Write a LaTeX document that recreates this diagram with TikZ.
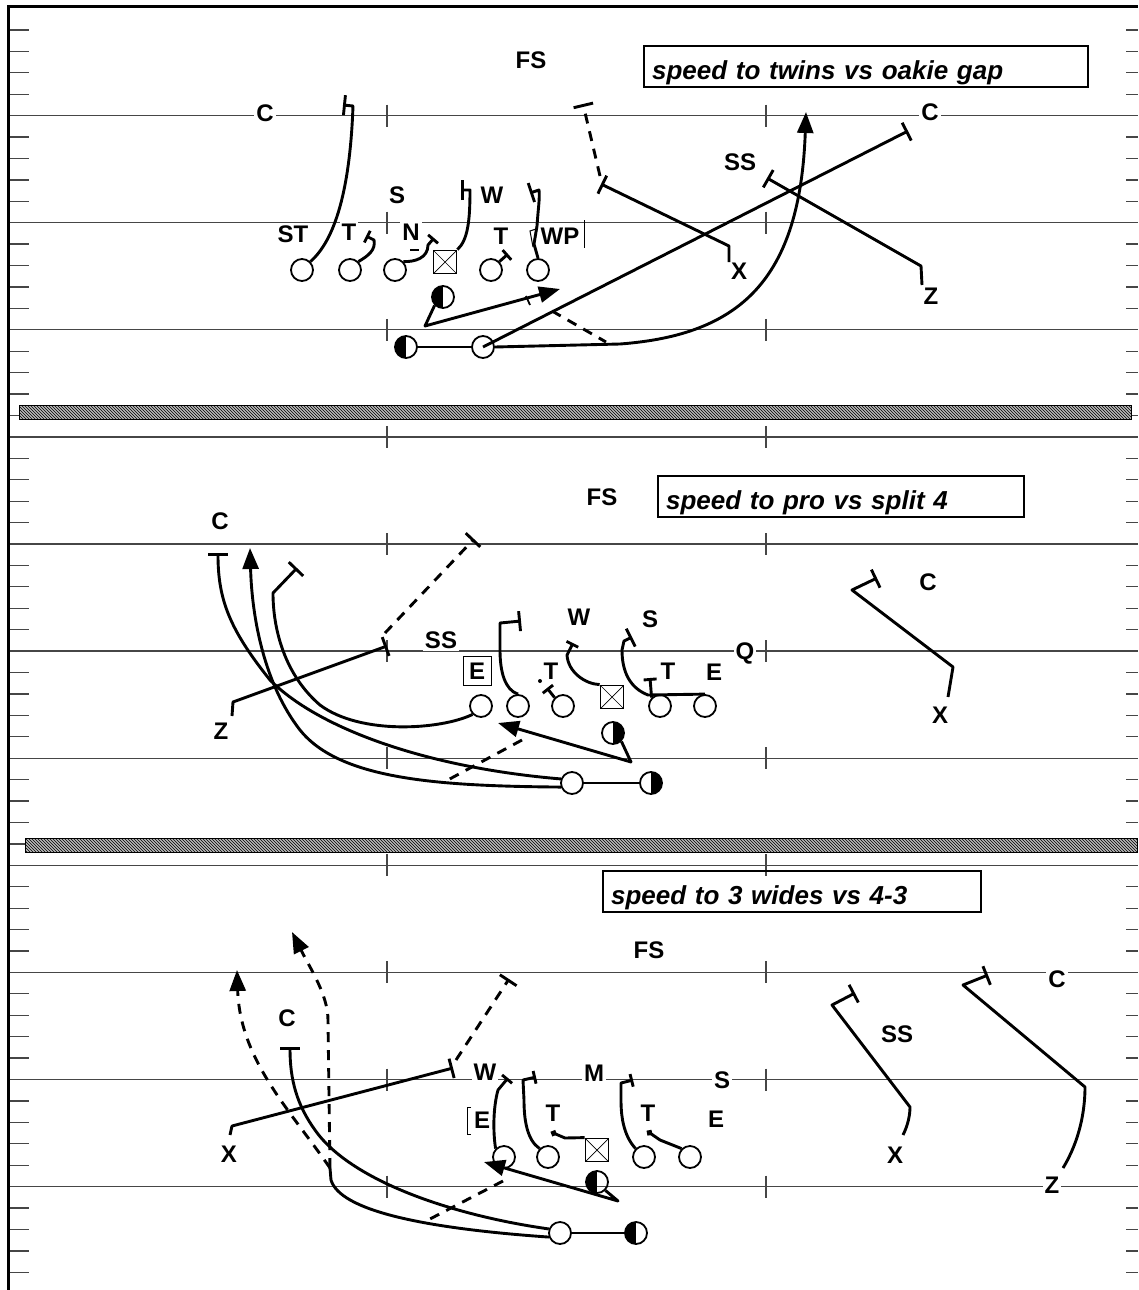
\documentclass[tikz,border=0pt]{standalone}
\usepackage{fontspec}
\setmainfont{Liberation Sans}
\usepackage{tikz}
\usetikzlibrary{arrows.meta, patterns}
\definecolor{fieldLine}{RGB}{70,70,70}

\begin{document}
\begin{tikzpicture}[x=1pt, y=-1pt,
    yard/.style={draw=fieldLine, line width=1.3pt},
    hatchbar/.style={draw, line width=1pt, fill=gray!55, postaction={pattern=north west lines}},
    plyr/.style={circle, draw, minimum size=22pt, inner sep=0pt, line width=1.8pt},
    halfL/.style={plyr, path picture={\fill (path picture bounding box.south west) rectangle (path picture bounding box.north);}},
    halfR/.style={plyr, path picture={\fill (path picture bounding box.south) rectangle (path picture bounding box.north east);}},
    snapbox/.style={draw, minimum size=23pt, inner sep=0pt, line width=1.8pt, path picture={\draw[line width=0.7pt] (path picture bounding box.south west) -- (path picture bounding box.north east) (path picture bounding box.north west) -- (path picture bounding box.south east);}},
    lbl/.style={fill=white, inner sep=2pt, font=\fontsize{24}{24}\selectfont\bfseries},
    callout/.style={draw, line width=2.2pt, anchor=north west, inner xsep=8pt, inner ysep=5pt, text height=28pt, text depth=3pt, align=left, font=\fontsize{26}{28}\selectfont\bfseries\itshape},
    route/.style={line width=2.9pt, line join=round},
    block/.style={route, -{Bar[width=20pt]}},
    sblock/.style={route, -{Bar[width=13pt]}},
    runarrow/.style={route, -{Triangle[length=21pt, width=16pt]}},
    option/.style={route, dash pattern=on 10pt off 8pt},
    dotend/.style={route, -{Circle[length=6pt]}}
]
    \useasboundingbox (0,0) rectangle (1138,1290);

    \foreach \k in {1,...,11}{
        \pgfmathsetmacro{\yy}{8.5+107.1*\k}
        \draw[yard] (8,\yy) -- (1138,\yy);
        \draw[yard] (387,\yy-11) -- (387,\yy+11);
        \draw[yard] (766,\yy-11) -- (766,\yy+11);
    }
    \foreach \k in {0,...,11}
        \foreach \j in {1,...,4}{
            \pgfmathsetmacro{\yy}{8.5+107.1*\k+21.42*\j}
            \draw[yard] (8,\yy) -- (29,\yy);
            \draw[yard] (1126,\yy) -- (1138,\yy);
        }
    \draw[line width=3pt] (8,1290) -- (8,7) -- (1138,7);
    \draw[hatchbar] (19,405) rectangle (1131,419);
    \draw[hatchbar] (25,838) rectangle (1137,852);

    \node[callout, text width=428pt] (title1) at (643,45) {speed to twins vs oakie gap};
    \node[callout, text width=350pt] (title2) at (657,475) {speed to pro vs split 4};
    \node[callout, text width=362pt] (title3) at (602,870) {speed to 3 wides vs 4-3};

    \node[lbl] (fs1) at (531,60) {FS};
    \node[lbl] (c1) at (265,113) {C};
    \node[lbl] (c2) at (930,112) {C};
    \node[lbl] (ss1) at (740,162) {SS};
    \node[lbl] (s1) at (397,195) {S};
    \node[lbl] (w1) at (492,195) {W};
    \node[lbl] (st1) at (293,234) {ST};
    \node[lbl] (t1) at (349,232) {T};
    \node[lbl] (n1) at (411,232) {N};
    \node[lbl] (t2) at (501,236) {T};
    \node[lbl] (wp1) at (560,236) {WP};
    \node[lbl] (x1) at (739,271) {X};
    \node[lbl] (z1) at (931,296) {Z};
    \draw[line width=1pt] (584,220) -- (584,248);
    \draw[line width=1pt] (536,229) -- (530,231) -- (533,247);

    \node[lbl] (fs2) at (602,497) {FS};
    \node[lbl] (c3) at (220,521) {C};
    \node[lbl] (c4) at (928,582) {C};
    \node[lbl] (ss2) at (441,640) {SS};
    \node[lbl] (w2) at (579,617) {W};
    \node[lbl] (s2) at (650,619) {S};
    \node[lbl, draw, line width=0.8pt, inner sep=6pt] (e1) at (477,671) {E};
    \node[lbl] (t3) at (551,671) {T};
    \node[lbl] (t4) at (668,671) {T};
    \node[lbl] (e2) at (714,672) {E};
    \node[lbl] (q1) at (745,653) {Q};
    \node[lbl] (x2) at (940,715) {X};
    \node[lbl] (z2) at (221,731) {Z};

    \node[lbl] (fs3) at (649,950) {FS};
    \node[lbl] (c5) at (287,1018) {C};
    \node[lbl] (c6) at (1057,979) {C};
    \node[lbl] (ss3) at (897,1034) {SS};
    \node[lbl] (w3) at (485,1072) {W};
    \node[lbl] (labM) at (594,1073) {M};
    \node[lbl] (s3) at (722,1080) {S};
    \node[lbl] (e3) at (482,1120) {E};
    \node[lbl] (t5) at (553,1113) {T};
    \node[lbl] (t6) at (648,1113) {T};
    \node[lbl] (e4) at (716,1119) {E};
    \node[lbl] (x3) at (229,1154) {X};
    \node[lbl] (x4) at (895,1155) {X};
    \node[lbl] (z3) at (1052,1185) {Z};
    \draw[line width=1pt] (471,1107) -- (467,1107) -- (467,1134) -- (471,1134);

    \node[plyr] (st) at (302,270) {};
    \node[plyr] (tl) at (350,270) {};
    \node[plyr] (gl) at (395,270) {};
    \node[snapbox] (ctr) at (445,262) {};
    \node[plyr] (gr) at (491,270) {};
    \node[plyr] (te) at (538,270) {};
    \node[halfL] (qb) at (443,297) {};
    \node[halfL] (hb) at (406,347) {};
    \node[plyr] (fb) at (483,347) {};

    \node[plyr] (m1) at (481,706) {};
    \node[plyr] (m2) at (518,706) {};
    \node[plyr] (m3) at (563,706) {};
    \node[snapbox] (mc) at (612,697) {};
    \node[plyr] (m4) at (660,706) {};
    \node[plyr] (m5) at (705,706) {};
    \node[halfR] (mqb) at (613,733) {};
    \node[plyr] (mfb) at (572,783) {};
    \node[halfR] (mhb) at (651,783) {};

    \node[plyr] (b1) at (504,1157) {};
    \node[plyr] (b2) at (548,1157) {};
    \node[snapbox] (bc) at (597,1150) {};
    \node[plyr] (b3) at (644,1157) {};
    \node[plyr] (b4) at (690,1157) {};
    \node[halfL] (bqb) at (597,1182) {};
    \node[plyr] (bfb) at (560,1233) {};
    \node[halfL] (bhb) at (636,1233) {};

    \coordinate (xr1) at (729,262);
    \coordinate (zr1) at (922,285);
    \coordinate (xblk1) at (601,184);
    \coordinate (zr2) at (232,716);
    \coordinate (zblk2) at (387,646);
    \coordinate (xr2) at (948,697);
    \coordinate (optA) at (330,1168);
    \coordinate (xr3) at (230,1135);
    \coordinate (xblk3) at (453,1068);
    \coordinate (xr4) at (903,1135);
    \coordinate (zr3) at (1063,1168);

    \draw[block] (st.north east) .. controls (335,240) and (350,190) .. (353,106) -- (343,105);
    \draw[sblock] (tl.north east) .. controls (368,256) and (376,250) .. (374,240) -- (366,236);
    \draw[sblock] (gl.north east) .. controls (415,262) and (428,258) .. (428,245) -- (434,238);
    \draw[route, line width=1.8pt] (410,250) -- (419,250);
    \draw[block] (ctr.north east) .. controls (468,240) and (470,220) .. (470,190) -- (461,190);
    \draw[sblock] (gr.north east) -- (508,254);
    \draw[block] (te.north) -- (534,244) -- (537,226) .. controls (538,210) and (540,198) .. (539,190) -- (530,193);
    \draw[block] (xr1) -- (729,246) -- (xblk1);
    \draw[option, -{Bar[width=20pt]}] (600,176) -- (583,104);
    \draw[block] (zr1) -- (921,266) -- (767,178);
    \draw[block] (fb.center) -- (908,131);
    \draw[route] (hb) -- (fb);
    \draw[runarrow] (fb.east) -- (620,344) .. controls (740,335) and (800,280) .. (806,112);
    \draw[runarrow] (qb.south west) -- (425,326) -- (560,289);
    \draw[route, line width=1.8pt] (526,296) -- (530,305);
    \draw[option] (552,311) -- (606,342);

    \draw[route] (mfb) -- (mhb);
    \draw[runarrow] (mqb.south east) -- (631,762) -- (498,723);
    \draw[option] (522,740) -- (446,781);
    \draw[block] (mfb.160) .. controls (430,768) and (320,730) .. (270,680) .. controls (230,630) and (218,600) .. (218,553);
    \draw[runarrow] (mfb.200) .. controls (440,786) and (340,780) .. (300,730) .. controls (265,685) and (252,620) .. (250,548);
    \draw[block] (m1.south west) .. controls (440,730) and (360,735) .. (320,705) .. controls (285,675) and (273,630) .. (273,593) -- (297,568);
    \draw[block] (zr2) -- (233,702) -- (zblk2);
    \draw[option, -{Bar[width=20pt]}] (385,633) -- (474,539);
    \draw[block] (m2.north) .. controls (505,690) and (500,672) .. (500,650) -- (500,623) -- (521,621);
    \draw[sblock] (m3.north west) -- (547,688);
    \fill (540,681) circle (2pt);
    \draw[sblock] (mc.north west) .. controls (585,684) and (568,672) .. (567,655) -- (573,643);
    \draw[block] (m5.north) -- (648,695) .. controls (630,688) and (622,672) .. (622,650) -- (624,641) -- (632,637);
    \draw[sblock] (m4.north west) -- (650,678);
    \draw[block] (xr2) -- (953,667) -- (852,590) -- (877,578);

    \draw[route] (bfb) -- (bhb);
    \draw[runarrow] (bqb.south east) -- (618,1201) -- (484,1162);
    \draw[option] (503,1181) -- (428,1220);
    \draw[block] (bfb.160) .. controls (450,1215) and (350,1180) .. (315,1130) .. controls (297,1105) and (290,1080) .. (290,1047);
    \draw[route] (bfb.200) .. controls (420,1228) and (340,1210) .. (331,1180) -- (optA);
    \draw[option, -{Triangle[length=21pt, width=16pt]}] (optA) -- (328,1020) .. controls (328,995) and (310,968) .. (292,932);
    \draw[option, -{Triangle[length=21pt, width=16pt]}] (optA) .. controls (290,1110) and (240,1060) .. (237,970);
    \draw[block] (xr3) -- (232,1126) -- (xblk3);
    \draw[option, -{Bar[width=20pt]}] (456,1060) -- (509,979);
    \draw[sblock] (b1.north west) .. controls (493,1132) and (493,1108) .. (498,1090) -- (508,1078);
    \draw[sblock] (b2.north west) .. controls (527,1140) and (524,1120) .. (524,1100) -- (523,1080) -- (536,1077);
    \draw[dotend] (bc.north west) -- (565,1138) -- (551,1132);
    \draw[sblock] (b3.north west) .. controls (623,1135) and (621,1115) .. (621,1100) -- (621,1083) -- (633,1080);
    \draw[dotend] (b4.north west) -- (660,1140) -- (647,1131);
    \draw[block] (xr4) .. controls (908,1125) and (910,1115) .. (910,1107) -- (832,1005) -- (855,993);
    \draw[block] (zr3) .. controls (1080,1140) and (1085,1110) .. (1085,1087) -- (963,985) -- (988,975);
\end{tikzpicture}
\end{document}
